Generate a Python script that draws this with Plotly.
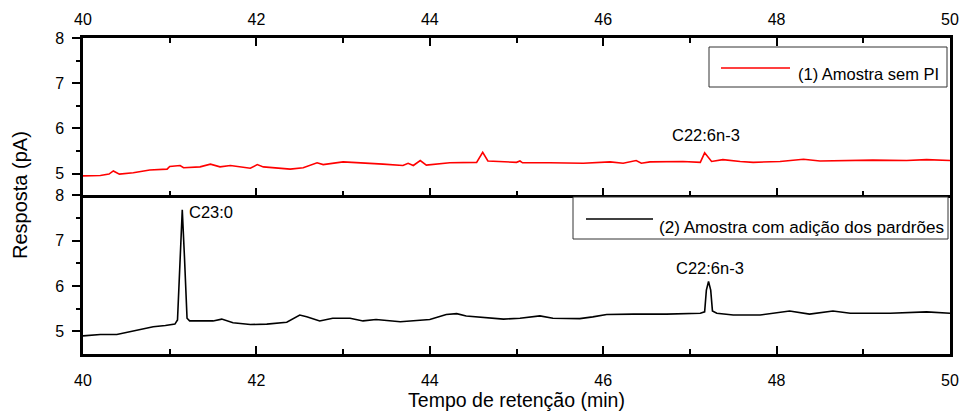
import plotly.graph_objects as go

# Chromatogram (1): sample without internal standard
t_sem_pi = [40.00, 40.20, 40.30, 40.35, 40.42, 40.58, 40.77, 40.97, 41.00, 41.12,
            41.16, 41.35, 41.47, 41.58, 41.70, 41.93, 42.01, 42.08, 42.39, 42.54,
            42.70, 42.77, 43.00, 43.27, 43.46, 43.69, 43.75, 43.81, 43.89, 43.96,
            44.23, 44.54, 44.61, 44.67, 45.00, 45.04, 45.07, 45.38, 45.77, 46.08,
            46.23, 46.38, 46.44, 46.54, 46.92, 47.12, 47.17, 47.25, 47.38, 47.58,
            47.73, 48.04, 48.31, 48.50, 48.73, 49.11, 49.50, 49.73, 50.00]
r_sem_pi = [4.95, 4.96, 4.99, 5.06, 4.99, 5.02, 5.08, 5.10, 5.16, 5.18,
            5.13, 5.15, 5.21, 5.15, 5.18, 5.12, 5.20, 5.15, 5.10, 5.13,
            5.24, 5.20, 5.26, 5.24, 5.21, 5.18, 5.23, 5.18, 5.29, 5.19,
            5.24, 5.25, 5.47, 5.28, 5.25, 5.28, 5.24, 5.24, 5.23, 5.26,
            5.23, 5.29, 5.23, 5.26, 5.27, 5.25, 5.46, 5.27, 5.31, 5.27,
            5.25, 5.27, 5.32, 5.28, 5.29, 5.30, 5.29, 5.31, 5.29]

# Chromatogram (2): sample spiked with standards
t_padroes = [40.00, 40.20, 40.39, 40.60, 40.81, 40.95, 41.06, 41.09, 41.12, 41.145,
             41.17, 41.20, 41.23, 41.35, 41.50, 41.60, 41.73, 41.93, 42.12, 42.35,
             42.50, 42.58, 42.73, 42.88, 43.08, 43.23, 43.38, 43.66, 44.00, 44.19,
             44.31, 44.42, 44.58, 44.85, 45.04, 45.27, 45.42, 45.73, 45.88, 46.04,
             46.35, 46.73, 47.12, 47.17, 47.19, 47.215, 47.24, 47.26, 47.31, 47.50,
             47.81, 48.15, 48.38, 48.65, 48.85, 49.31, 49.73, 50.00]
r_padroes = [4.90, 4.93, 4.93, 5.01, 5.10, 5.13, 5.16, 5.25, 6.65, 7.68,
             6.65, 5.29, 5.23, 5.23, 5.23, 5.27, 5.19, 5.15, 5.16, 5.20,
             5.36, 5.32, 5.23, 5.29, 5.29, 5.23, 5.26, 5.21, 5.26, 5.37,
             5.39, 5.34, 5.32, 5.27, 5.29, 5.34, 5.29, 5.28, 5.32, 5.37,
             5.38, 5.38, 5.40, 5.43, 5.91, 6.10, 5.91, 5.45, 5.40, 5.36,
             5.36, 5.45, 5.38, 5.45, 5.40, 5.40, 5.43, 5.40]

# Peak labels: (text, time, response, panel)
peak_labels = [("C22:6n-3", 47.18, 5.85, "top"),
               ("C23:0", 41.20, 7.63, "bottom"),
               ("C22:6n-3", 47.23, 6.40, "bottom")]

legend_names = ["(1) Amostra sem PI", "(2) Amostra com adição dos pardrões"]
line_colors = ["#ff0000", "#000000"]

x_ticks = [40, 42, 44, 46, 48, 50]
y_ticks = [5, 6, 7, 8]

FONT = "Liberation Sans, Arial, sans-serif"
W, H = 962, 412
ML, MR, MT, MB = 83, 12, 38, 58
PW, PH = W - ML - MR, H - MT - MB


def px(xp):
    return (xp - ML) / PW


def py(yp):
    return (H - MB - yp) / PH


fig = go.Figure()
fig.add_trace(go.Scatter(x=t_sem_pi, y=r_sem_pi, mode="lines", xaxis="x2", yaxis="y2",
                         line=dict(color=line_colors[0], width=1.6),
                         name=legend_names[0], showlegend=False))
fig.add_trace(go.Scatter(x=t_padroes, y=r_padroes, mode="lines", xaxis="x", yaxis="y",
                         line=dict(color=line_colors[1], width=1.6),
                         name=legend_names[1], showlegend=False))

split = 0.502
x_common = dict(range=[40, 50], tickvals=x_ticks, showgrid=False, zeroline=False,
                showline=True, linecolor="black", linewidth=2.5, automargin=False,
                ticks="inside", ticklen=8, tickwidth=1.5, tickcolor="black",
                minor=dict(dtick=1, ticks="inside", ticklen=5, tickwidth=1.5, tickcolor="black"),
                tickfont=dict(family=FONT, size=16, color="black"))
y_common = dict(range=[4.5, 8], tickvals=y_ticks, showgrid=False, zeroline=False,
                showline=True, linecolor="black", linewidth=2.5, mirror=True,
                automargin=False, ticklabelstandoff=5,
                ticks="outside", ticklen=8, tickwidth=1.5, tickcolor="black",
                minor=dict(tickvals=[5.5, 6.5, 7.5], ticks="outside", ticklen=4,
                           tickwidth=1.5, tickcolor="black"),
                tickfont=dict(family=FONT, size=16, color="black"))

fig.update_layout(
    width=W, height=H,
    margin=dict(l=ML, r=MR, t=MT, b=MB),
    paper_bgcolor="white", plot_bgcolor="white",
    font=dict(family=FONT, color="black"),
    xaxis=dict(**x_common, anchor="y", side="bottom", mirror=False,
               ticklabelstandoff=10,
               title=dict(text="Tempo de retenção (min)", font=dict(size=19.5), standoff=2)),
    yaxis=dict(**y_common, domain=[0, split], anchor="x"),
    xaxis2=dict(**x_common, anchor="y2", side="top", mirror="allticks",
                ticklabelstandoff=4),
    yaxis2=dict(**{**y_common, "range": [4.52, 8]}, domain=[split, 1], anchor="x2"),
    showlegend=False,
)

# Legend boxes: frame, line sample and label for each chromatogram
legend_boxes = [
    dict(x0=709, x1=947, y0=47, y1=87, lx0=721, lx1=790, ly=68, tx=796, ty=74, size=16.5),
    dict(x0=573, x1=948, y0=197, y1=239, lx0=586, lx1=653, ly=219, tx=657, ty=227, size=17.1),
]
for name, color, b in zip(legend_names, line_colors, legend_boxes):
    fig.add_shape(type="rect", xref="paper", yref="paper",
                  x0=px(b["x0"]), x1=px(b["x1"]), y0=py(b["y1"]), y1=py(b["y0"]),
                  line=dict(color="#333333", width=1), fillcolor="white", layer="above")
    fig.add_shape(type="line", xref="paper", yref="paper",
                  x0=px(b["lx0"]), x1=px(b["lx1"]), y0=py(b["ly"]), y1=py(b["ly"]),
                  line=dict(color=color, width=1.6), layer="above")
    fig.add_annotation(text=name, xref="paper", yref="paper",
                       x=px(b["tx"]), y=py(b["ty"]), xanchor="left", yanchor="middle",
                       showarrow=False,
                       font=dict(size=b["size"], family=FONT, color="black"))

for text, t, r, panel in peak_labels:
    refs = ("x2", "y2") if panel == "top" else ("x", "y")
    anchor = "left" if text == "C23:0" else "center"
    fig.add_annotation(text=text, x=t, y=r, xref=refs[0], yref=refs[1],
                       xanchor=anchor, yanchor="middle", showarrow=False,
                       font=dict(size=16.5, family=FONT, color="black"))

fig.add_annotation(text="Resposta (pA)", xref="paper", yref="paper",
                   x=px(20), y=py(195), textangle=-90, showarrow=False,
                   xanchor="center", yanchor="middle",
                   font=dict(size=20, family=FONT, color="black"))

fig.write_html("out.html")
